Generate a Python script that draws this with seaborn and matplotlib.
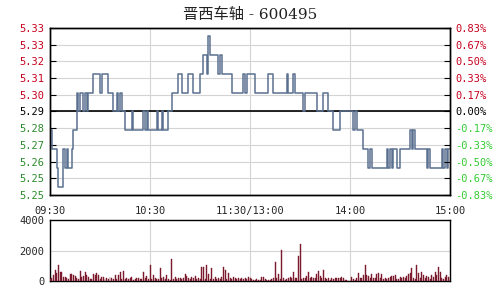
import numpy as np
import pandas as pd
import seaborn as sns
import matplotlib
matplotlib.use("Agg")
import matplotlib.pyplot as plt

title = "晋西车轴 - 600495"
base_price = 5.29
range_pct = 0.8333
time_labels = ["09:30", "10:30", "11:30/13:00", "14:00", "15:00"]
time_ticks = [0, 60, 120, 180, 240]

# price offsets from 5.29 in 0.01 ticks, one per minute (0..240)
price_offsets = [
    -1, -2, -2, -2, -3, -4, -4, -4, -2, -3,
    -2, -3, -3, -2, -1, -1, 1, 0, 1, 1,
    0, 1, 0, 1, 1, 1, 2, 2, 2, 2,
    1, 2, 2, 2, 2, 1, 1, 1, 0, 0,
    1, 0, 1, 0, 0, -1, -1, -1, -1, 0,
    -1, -1, -1, -1, -1, -1, 0, -1, 0, -1,
    -1, -1, -1, -1, 0, -1, -1, 0, -1, -1,
    -1, 0, 0, 1, 1, 1, 1, 2, 2, 1,
    1, 1, 1, 2, 2, 2, 1, 1, 1, 1,
    2, 2, 3, 3, 2, 4, 3, 3, 3, 3,
    3, 2, 3, 2, 2, 2, 2, 2, 2, 1,
    1, 1, 1, 1, 1, 1, 2, 1, 2, 2,
    2, 2, 2, 1, 1, 1, 1, 1, 1, 1,
    1, 2, 2, 2, 1, 1, 1, 1, 1, 1,
    1, 1, 2, 1, 1, 1, 2, 1, 1, 1,
    1, 1, 0, 1, 1, 1, 1, 1, 1, 1,
    0, 0, 0, 0, 1, 1, 1, 0, 0, 0,
    -1, -1, -1, -1, 0, 0, 0, 0, 0, 0,
    0, 0, -1, 0, -1, -1, -1, -1, -2, -2,
    -2, -3, -2, -3, -3, -3, -3, -3, -3, -3,
    -3, -3, -2, -3, -2, -3, -2, -2, -3, -3,
    -2, -2, -2, -2, -2, -2, -1, -2, -1, -2,
    -2, -2, -2, -2, -2, -2, -3, -2, -3, -3,
    -3, -3, -3, -3, -3, -2, -3, -2, -3, -2,
    -2,
]

volumes = [
    100, 180, 400, 730, 510, 1020, 620, 580, 290, 240,
    180, 100, 440, 440, 400, 360, 220, 120, 670, 290,
    360, 580, 400, 240, 150, 100, 440, 400, 510, 400,
    120, 290, 240, 100, 180, 120, 290, 180, 100, 400,
    150, 400, 620, 100, 670, 120, 180, 100, 220, 290,
    80, 130, 220, 180, 100, 100, 580, 220, 360, 120,
    1020, 150, 400, 180, 100, 120, 840, 220, 290, 100,
    400, 120, 80, 1440, 120, 290, 100, 180, 180, 120,
    180, 440, 360, 220, 120, 290, 220, 360, 100, 180,
    100, 890, 890, 150, 1020, 440, 100, 840, 120, 290,
    100, 180, 120, 290, 950, 730, 120, 510, 180, 100,
    290, 220, 120, 180, 130, 220, 100, 180, 100, 290,
    180, 130, 60, 60, 130, 50, 80, 290, 290, 130,
    50, 60, 40, 130, 220, 1220, 180, 440, 130, 2020,
    180, 60, 130, 220, 290, 180, 580, 180, 220, 1620,
    2440, 130, 180, 180, 360, 580, 180, 290, 220, 180,
    440, 670, 360, 220, 730, 180, 130, 220, 60, 180,
    130, 180, 220, 180, 220, 290, 180, 60, 60, 20,
    30, 290, 130, 80, 180, 510, 180, 220, 400, 1070,
    400, 360, 180, 440, 220, 180, 440, 510, 220, 440,
    100, 180, 130, 180, 290, 360, 360, 400, 100, 130,
    290, 220, 290, 180, 360, 440, 510, 840, 180, 100,
    1070, 510, 220, 580, 400, 220, 360, 290, 100, 400,
    290, 580, 400, 890, 620, 220, 130, 290, 400, 290,
    180,
]

minutes = list(range(len(price_offsets)))
df = pd.DataFrame({
    "minute": minutes,
    "price": [base_price + o * 0.01 for o in price_offsets],
    "volume": volumes,
})

sns.set_style("white")
plt.rcParams["font.family"] = ["DejaVu Sans Mono"]

fig = plt.figure(figsize=(5, 3), dpi=100)
ax = fig.add_axes([0.1, 0.35, 0.8, 0.5567])
axv = fig.add_axes([0.1, 0.0633, 0.8, 0.2033])

span = base_price * range_pct / 100
ylo, yhi = base_price - span, base_price + span
ticks = [base_price + i * span / 5 for i in range(-5, 6)]

grid_c = "#d4d4d4"
for t in ticks:
    ax.axhline(t, color=grid_c, lw=0.8, zorder=0)
for t in time_ticks[1:-1]:
    ax.axvline(t, color=grid_c, lw=0.8, zorder=0)
    axv.axvline(t, color=grid_c, lw=0.8, zorder=0)
axv.axhline(2000, color=grid_c, lw=0.8, zorder=0)

ax.axhline(base_price, color="black", lw=1.2, zorder=1)
sns.lineplot(data=df, x="minute", y="price", ax=ax, drawstyle="steps-post",
             color="#5a7090", lw=1.1, zorder=3)

ax.set_xlim(0, 240)
ax.set_ylim(ylo, yhi)
ax.set_yticks(ticks)
ax.set_yticklabels([f"{t:.2f}" for t in ticks])
ax.set_xticks(time_ticks)
ax.set_xticklabels(time_labels)
ax.set_xlabel("")
ax.set_ylabel("")
ax.tick_params(axis="y", direction="in", length=4, labelsize=7.5, pad=4, color="black")
ax.tick_params(axis="x", direction="in", length=0, labelsize=7.5, pad=8)
red, dgreen, lgreen = "#c8001e", "#2c8a2c", "#33cc33"
for lab, t in zip(ax.get_yticklabels(), ticks):
    if t > base_price + 1e-9:
        lab.set_color(red)
    elif t < base_price - 1e-9:
        lab.set_color(dgreen)
    else:
        lab.set_color("black")

axr = ax.twinx()
axr.set_ylim(ylo, yhi)
axr.set_yticks(ticks)
pct = [(t - base_price) / base_price * 100 for t in ticks]
axr.set_yticklabels([f"{p:.2f}%" if abs(p) > 1e-9 else "0.00%" for p in pct])
axr.tick_params(axis="y", direction="in", length=4, labelsize=7.5, pad=4, color="black")
for lab, p in zip(axr.get_yticklabels(), pct):
    if p > 1e-9:
        lab.set_color(red)
    elif p < -1e-9:
        lab.set_color(lgreen)
    else:
        lab.set_color("black")

sns.barplot(data=df, x="minute", y="volume", ax=axv, native_scale=True,
            color="#7a1a2c", width=0.6, saturation=1, zorder=3,
            edgecolor="#7a1a2c", linewidth=0.3, errorbar=None)
axv.set_xlim(0, 240)
axv.set_ylim(0, 4000)
axv.set_yticks([0, 1000, 2000, 3000, 4000])
axv.set_yticklabels(["0", "", "2000", "", "4000"])
axv.set_xticks([])
axv.set_xlabel("")
axv.set_ylabel("")
axv.tick_params(axis="y", direction="in", length=4, labelsize=7.5, pad=4, color="black")

for a in (ax, axr, axv):
    for s in a.spines.values():
        s.set_color("black")
        s.set_linewidth(1.0)

fig.text(0.5, 0.95, title, ha="center", va="center", fontsize=11,
         family=["DejaVu Serif", "Noto Sans CJK SC"], color="#222222")

fig.savefig("out.png", dpi=100, facecolor="white")
